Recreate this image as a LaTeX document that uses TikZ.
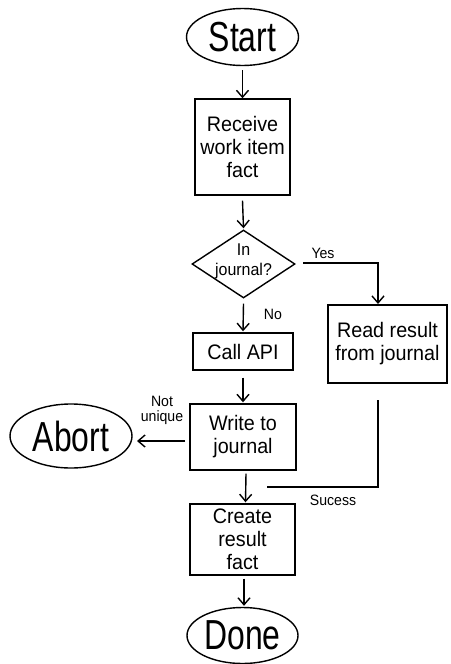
\documentclass[tikz,border=0pt]{standalone}
\usepackage{fontspec}
\setmainfont{Liberation Sans}[FakeStretch=0.94]
\newfontfamily\bigf{Liberation Sans}[FakeStretch=0.76]
\usetikzlibrary{shapes.geometric,arrows.meta}
\begin{document}
\begin{tikzpicture}[x=1pt,y=-1pt,
  line width=1.4pt,
  term/.style={ellipse,draw,inner sep=0pt,font=\bigf\fontsize{42}{44}\selectfont},
  proc/.style={rectangle,draw,inner sep=0pt,align=center,font=\fontsize{21}{23}\selectfont},
  decide/.style={diamond,draw,inner sep=0pt,minimum width=103pt,minimum height=68pt},
  lbl/.style={inner sep=0pt,align=center,font=\fontsize{15}{15}\selectfont},
  flow/.style={-{Straight Barb[length=7pt,width=12pt]}}
]
\useasboundingbox (0,0) rectangle (450,664);
% nodes
\node[term,minimum width=112pt,minimum height=57pt] (start) at (242.5,37) {Start};
\node[proc,minimum width=95pt,minimum height=96pt] (receive) at (242.5,147) {Receive\\work item\\fact};
\node[decide] (dec) at (243.5,264) {};
\node[inner sep=0pt,align=center,font=\fontsize{17}{20}\selectfont] (dect) at (243.5,261) {In\\journal?};
\node[proc,minimum width=119pt,minimum height=78pt] (read) at (387.5,344) {Read result\\from journal};
\node[proc,minimum width=100pt,minimum height=37pt] (call) at (243,351.5) {Call API};
\node[proc,minimum width=106pt,minimum height=66pt] (write) at (243,437) {Write to\\journal};
\node[proc,minimum width=105pt,minimum height=71pt] (create) at (242.5,539.5) {Create\\result\\fact};
\node[term,minimum width=111pt,minimum height=56pt] (done) at (242.5,635.5) {Done};
\node[term,minimum width=122pt,minimum height=64pt] (abort) at (71,436) {Abort};
% labels
\node[lbl] (yes) at (323,253) {Yes};
\node[lbl] (no) at (273,314) {No};
\node[lbl] (nu) at (162,410) {Not\\unique};
\node[lbl] (suc) at (333,500) {Sucess};
% helper coordinates
\coordinate (ys) at (303,263);
\coordinate (yc) at (378,263);
\coordinate (yt) at (378,304);
\coordinate (rs) at (378,400);
\coordinate (sc) at (378,487);
\coordinate (se) at (267,487);
\coordinate (aw) at (185,441);
\coordinate (ae) at (137,441);
% connectors
\draw[flow] ([yshift=-4pt]start.south) -- (receive.north);
\draw[flow] ([yshift=-5pt]receive.south) -- ([yshift=1pt]dec.north);
\draw[flow] ([yshift=-5pt]dec.south) -- ([yshift=1pt]call.north);
\draw[flow] (ys) -- (yc) -- (yt);
\draw[flow] ([yshift=-7pt]call.south) -- ([yshift=1pt]write.north);
\draw[flow] ([xshift=3pt,yshift=-3pt]write.south) -- ([xshift=3pt,yshift=1pt]create.north);
\draw (rs) -- (sc) -- (se);
\draw[flow] ([xshift=1.5pt,yshift=-3pt]create.south) -- ([xshift=1.5pt,yshift=1pt]done.north);
\draw[flow] (aw) -- (ae);
\end{tikzpicture}
\end{document}
